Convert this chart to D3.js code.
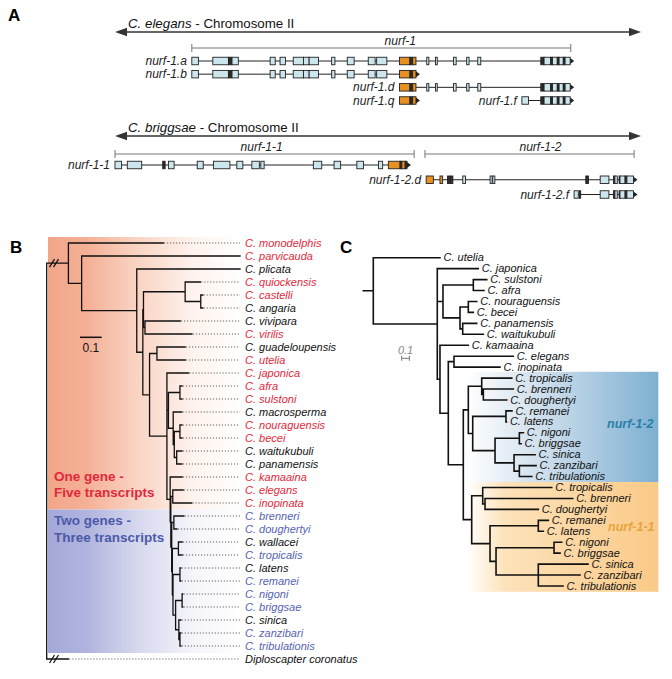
<!DOCTYPE html>
<html><head><meta charset="utf-8">
<script src="https://cdn.jsdelivr.net/npm/d3@7"></script>
<style>
body{margin:0;background:#fff}
svg{display:block}
text{font-family:"Liberation Sans",Arial,sans-serif}
</style></head>
<body><svg id="fig" width="672" height="679"></svg>
<script>
// ================= DATA =================
// Panel A : genomic coordinates in kb
const chromSpan = [0, 17.53];
const elegansGeneNames = ["nurf-1"];
const elegansGeneSpans = [[2.56, 15.19]];
const briggsaeGeneNames = ["nurf-1-1", "nurf-1-2"];
const briggsaeGeneSpans = [[0.00, 9.97], [10.33, 17.30]];

// exon blocks [start, end, kind]  L = coding, D = dark segment, O = orange (shared 5' region)
const nurf1Exons5p = [[2.56,2.78,"L"],[3.26,3.78,"L"],[3.78,3.89,"D"],[3.90,4.11,"L"],
  [5.17,5.34,"L"],[5.50,5.68,"L"],[5.94,6.28,"L"],[6.28,6.47,"L"],[6.47,6.78,"L"],
  [7.22,7.33,"L"],[7.74,7.97,"L"],[8.44,8.67,"L"],[8.72,9.06,"L"]];
const nurf1ExonsOrange = [[9.48,9.83,"O"],[9.83,9.92,"D"],[9.92,10.03,"O"]];
const nurf1ExonsMid = [[10.39,10.46,"L"],[10.68,10.74,"L"],[11.28,11.37,"L"],[11.72,11.80,"L"],[12.09,12.19,"L"]];
const nurf1ExonsF = [[13.56,13.78,"L"]];
const nurf1Exons3p = [[14.19,14.30,"D"],[14.30,14.52,"L"],[14.52,14.58,"D"],[14.58,14.74,"L"],
  [14.74,14.80,"D"],[14.80,14.94,"L"],[14.94,15.00,"D"],[15.00,15.17,"L"]];

const elegansTranscripts = ["nurf-1.a", "nurf-1.b", "nurf-1.d", "nurf-1.q", "nurf-1.f"];
const elegansRows = [0, 1, 2, 3, 3];
const elegansParts = [
  ["p5", "orange", "mid", "p3"],
  ["p5", "orange"],
  ["orange", "mid", "p3"],
  ["orange"],
  ["f", "p3"]
];

const nurf11Exons = [[0.00,0.22,"L"],[0.41,0.89,"L"],[1.59,1.67,"D"],[1.78,1.97,"L"],[2.74,2.94,"L"],
  [3.28,3.83,"L"],[4.06,4.26,"L"],[4.56,4.81,"L"],[4.86,4.97,"L"],[6.61,6.89,"L"],[7.30,7.52,"L"],
  [8.06,8.28,"L"],[8.78,8.92,"L"],[9.11,9.50,"O"],[9.50,9.56,"D"],[9.56,9.67,"O"],[9.67,9.73,"D"]];
const nurf12dExons = [[10.37,10.61,"O"],[10.83,10.92,"O"],[11.08,11.16,"D"],[11.18,11.26,"D"],
  [11.59,11.68,"L"],[12.50,12.57,"L"],[12.59,12.66,"L"],[15.69,15.78,"D"],[16.17,16.46,"L"],
  [16.61,16.66,"D"],[16.66,16.74,"L"],[16.80,16.83,"D"],[16.83,17.00,"L"],[17.00,17.06,"D"],[17.06,17.28,"L"]];
const nurf12fExons = [[15.30,15.44,"L"],[15.48,15.52,"D"],[16.17,16.46,"L"],[16.61,16.66,"D"],
  [16.66,16.74,"L"],[16.80,16.83,"D"],[16.83,17.00,"L"],[17.00,17.06,"D"],[17.06,17.28,"L"]];
const briggsaeTranscripts = ["nurf-1-1", "nurf-1-2.d", "nurf-1-2.f"];
const briggsaeRows = [0, 1, 2];

// Panel B : species tree [id, parent, branch length]
const treeBNodes = [
  ["root","",0],
  ["A","root",0.100],
  ["C. monodelphis","A",0.437],
  ["B","A",0.061],
  ["C. parvicauda","B",0.730],
  ["C","B",0.254],
  ["C. plicata","C",0.476],
  ["D","C",0.028],
  ["E","D",0.003],
  ["F","E",0.192],
  ["C. quiockensis","F",0.070],
  ["G","F",0.072],
  ["C. castelli","G",0.009],
  ["C. angaria","G",0.009],
  ["H","E",0.007],
  ["C. vivipara","H",0.162],
  ["C. virilis","H",0.216],
  ["L","D",0.031],
  ["M","L",0.034],
  ["C. guadeloupensis","M",0.130],
  ["C. utelia","M",0.130],
  ["N","L",0.080],
  ["C. japonica","N",0.100],
  ["N3","N",0.007],
  ["P","N3",0.053],
  ["C. afra","P",0.009],
  ["C. sulstoni","P",0.009],
  ["N4","N3",0.022],
  ["C. macrosperma","N4",0.039],
  ["N5","N4",0.005],
  ["Q","N5",0.026],
  ["C. nouraguensis","Q",0.009],
  ["C. becei","Q",0.009],
  ["S","N5",0.011],
  ["C. waitukubuli","S",0.024],
  ["C. panamensis","S",0.024],
  ["E1","N",0.015],
  ["C. kamaaina","E1",0.055],
  ["E2","E1",0.003],
  ["EI","E2",0.009],
  ["C. elegans","EI",0.048],
  ["C. inopinata","EI",0.087],
  ["E3","E2",0.004],
  ["BD","E3",0.010],
  ["C. brenneri","BD",0.046],
  ["C. doughertyi","BD",0.014],
  ["E4","E3",0.003],
  ["WT","E4",0.028],
  ["C. wallacei","WT",0.017],
  ["C. tropicalis","WT",0.017],
  ["E5","E4",0.003],
  ["LR","E5",0.032],
  ["C. latens","LR",0.004],
  ["C. remanei","LR",0.004],
  ["E6","E5",0.012],
  ["NB","E6",0.030],
  ["C. nigoni","NB",0.003],
  ["C. briggsae","NB",0.003],
  ["SZT","E6",0.015],
  ["C. sinica","SZT",0.009],
  ["ZT","SZT",0.005],
  ["C. zanzibari","ZT",0.004],
  ["C. tribulationis","ZT",0.004],
  ["Diploscapter coronatus","root",0.100]
];
const treeBLeaves = ["C. monodelphis","C. parvicauda","C. plicata","C. quiockensis","C. castelli","C. angaria",
  "C. vivipara","C. virilis","C. guadeloupensis","C. utelia","C. japonica","C. afra","C. sulstoni",
  "C. macrosperma","C. nouraguensis","C. becei","C. waitukubuli","C. panamensis","C. kamaaina",
  "C. elegans","C. inopinata","C. brenneri","C. doughertyi","C. wallacei","C. tropicalis","C. latens",
  "C. remanei","C. nigoni","C. briggsae","C. sinica","C. zanzibari","C. tribulationis","Diploscapter coronatus"];
const treeBLeafGroup = ["one","one","na","one","one","na","na","one","na","one","one","one","one",
  "na","one","one","na","na","one","one","one","two","two","na","two","na","two","two","two","na","two","two","na"];
const groupLabels = [["One gene -","Five transcripts"],["Two genes -","Three transcripts"]];

// Panel C : gene tree [id, parent, branch length, label]
const treeCNodes = [
  ["r","",0,""],
  ["utelia","r",0.866,"C. utelia"],
  ["C1","r",0.831,""],
  ["japonica","C1",0.532,"C. japonica"],
  ["C2","C1",0.074,""],
  ["SA","C2",0.394,""],
  ["sulstoni","SA",0.174,"C. sulstoni"],
  ["afra","SA",0.139,"C. afra"],
  ["C3","C2",0.221,""],
  ["NoB","C3",0.108,""],
  ["nouraguensis","NoB",0.109,"C. nouraguensis"],
  ["becei","NoB",0.065,"C. becei"],
  ["PW","C3",0.035,""],
  ["panamensis","PW",0.182,"C. panamensis"],
  ["waitukubuli","PW",0.268,"C. waitukubuli"],
  ["C4","C1",0.035,""],
  ["kamaaina","C4",0.368,"C. kamaaina"],
  ["C5","C4",0.108,""],
  ["EI","C5",0.074,""],
  ["elegans","EI",0.770,"C. elegans"],
  ["inopinata","EI",0.597,"C. inopinata"],
  ["C6","C5",0.195,""],
  ["X0","C6",0.065,""],
  ["X1","X0",0.174,""],
  ["tropicalis2","X1",0.390,"C. tropicalis"],
  ["X2","X1",0.021,""],
  ["brenneri2","X2",0.390,"C. brenneri"],
  ["doughertyi2","X2",0.304,"C. doughertyi"],
  ["Y1","X0",0.057,""],
  ["LR2","Y1",0.432,""],
  ["remanei2","LR2",0.078,"C. remanei"],
  ["latens2","LR2",0.006,"C. latens"],
  ["Y2","Y1",0.290,""],
  ["NB2","Y2",0.316,""],
  ["nigoni2","NB2",0.052,"C. nigoni"],
  ["briggsae2","NB2",0.022,"C. briggsae"],
  ["SZT2","Y2",0.247,""],
  ["sinica2","SZT2",0.273,"C. sinica"],
  ["ZT2","SZT2",0.069,""],
  ["zanzibari2","ZT2",0.217,"C. zanzibari"],
  ["tribulationis2","ZT2",0.161,"C. tribulationis"],
  ["Z0","C6",0.109,""],
  ["Z1","Z0",0.143,""],
  ["tropicalis1","Z1",0.896,"C. tropicalis"],
  ["Z2","Z1",0.030,""],
  ["brenneri1","Z2",1.139,"C. brenneri"],
  ["doughertyi1","Z2",0.692,"C. doughertyi"],
  ["Z3","Z0",0.238,""],
  ["RL1","Z3",0.627,""],
  ["remanei1","RL1",0.130,"C. remanei"],
  ["latens1","RL1",0.065,"C. latens"],
  ["Z4","Z3",0.078,""],
  ["NB1","Z4",0.753,""],
  ["nigoni1","NB1",0.100,"C. nigoni"],
  ["briggsae1","NB1",0.078,"C. briggsae"],
  ["SZT1","Z4",0.549,""],
  ["sinica1","SZT1",0.645,"C. sinica"],
  ["zanzibari1","SZT1",0.542,"C. zanzibari"],
  ["tribulationis1","SZT1",0.321,"C. tribulationis"]
];
const treeCClades = ["nurf-1-2", "nurf-1-1"];
const treeCCladeFirst = ["tropicalis2", "tropicalis1"];
const treeCCladeLast = ["tribulationis2", "tribulationis1"];
const scaleBarValue = 0.1;

// ================= DRAW =================
const svg = d3.select("#fig");
const defs = svg.append("defs");
function hGrad(id, stops) {
  const lg = defs.append("linearGradient").attr("id", id)
    .attr("x1", "0").attr("x2", "1").attr("y1", "0").attr("y2", "0");
  stops.forEach(s => lg.append("stop").attr("offset", s[0]).attr("stop-color", s[1]));
}
hGrad("gRed", [[0,"rgb(242,166,136)"],[0.2,"rgb(244,176,150)"],[0.45,"rgb(249,210,193)"],[0.75,"rgb(254,242,237)"],[1,"#fff"]]);
hGrad("gBlue", [[0,"rgb(164,168,217)"],[0.2,"rgb(176,180,222)"],[0.45,"rgb(212,214,237)"],[0.75,"rgb(244,244,250)"],[1,"#fff"]]);
hGrad("gTeal", [[0,"#ffffff"],[0.35,"rgb(212,226,238)"],[1,"rgb(126,176,210)"]]);
hGrad("gOrange", [[0,"#ffffff"],[0.2,"rgb(253,226,186)"],[1,"rgb(250,202,135)"]]);

const panelFont = 17;
svg.append("text").attr("x", 8).attr("y", 21).attr("font-size", panelFont).attr("font-weight", "bold").text("A");
svg.append("text").attr("x", 10).attr("y", 253).attr("font-size", panelFont).attr("font-weight", "bold").text("B");
svg.append("text").attr("x", 340).attr("y", 253).attr("font-size", panelFont).attr("font-weight", "bold").text("C");

// ---------- Panel A ----------
const xA = d3.scaleLinear().domain(chromSpan).range([115, 641]);
const exonFill = {L: "#cde6ee", D: "#2b2b2b", O: "#e8901f"};
const partMap = {p5: nurf1Exons5p, orange: nurf1ExonsOrange, mid: nurf1ExonsMid, f: nurf1ExonsF, p3: nurf1Exons3p};

function drawChromosome(y, species) {
  const g = svg.append("g");
  const x0 = xA(chromSpan[0]), x1 = xA(chromSpan[1]);
  g.append("line").attr("x1", x0 + 6).attr("x2", x1 - 6).attr("y1", y).attr("y2", y)
    .attr("stroke", "#333").attr("stroke-width", 1.6);
  g.append("path").attr("d", `M${x0},${y}L${x0 + 12},${y - 4.2}L${x0 + 12},${y + 4.2}Z`).attr("fill", "#333");
  g.append("path").attr("d", `M${x1},${y}L${x1 - 12},${y - 4.2}L${x1 - 12},${y + 4.2}Z`).attr("fill", "#333");
  const t = g.append("text").attr("x", 128).attr("y", y - 4.5).attr("font-size", 13.3).attr("fill", "#111");
  t.append("tspan").attr("font-style", "italic").text(species);
  t.append("tspan").text(" - Chromosome II");
}
function drawGenes(y, names, spans, shifts) {
  const g = svg.append("g");
  names.forEach((n, i) => {
    const a = xA(spans[i][0]), b = xA(spans[i][1]);
    g.append("path").attr("d", `M${a},${y - 4}V${y + 4}M${a},${y}H${b}M${b},${y - 4}V${y + 4}`)
      .attr("stroke", "#777").attr("stroke-width", 1).attr("fill", "none");
    g.append("text").attr("x", (a + b) / 2 + shifts[i]).attr("y", y - 3.5).attr("text-anchor", "middle")
      .attr("font-size", 12).attr("font-style", "italic").attr("fill", "#222").text(n);
  });
}
function drawTranscript(y, name, exons) {
  const g = svg.append("g");
  const s = xA(d3.min(exons, e => e[0])), e = xA(d3.max(exons, e => e[1]));
  g.append("line").attr("x1", s).attr("x2", e).attr("y1", y).attr("y2", y).attr("stroke", "#222").attr("stroke-width", 1);
  g.selectAll("rect").data(exons).join("rect")
    .attr("x", d => xA(d[0])).attr("width", d => Math.max(1, xA(d[1]) - xA(d[0])))
    .attr("y", y - 3.75).attr("height", 7.5)
    .attr("fill", d => exonFill[d[2]]).attr("stroke", "#222").attr("stroke-width", 0.9);
  g.append("path").attr("d", `M${e},${y - 3}L${e + 4},${y}L${e},${y + 3}Z`).attr("fill", "#222");
  g.append("text").attr("x", s - 5).attr("y", y + 4).attr("text-anchor", "end")
    .attr("font-size", 12).attr("font-style", "italic").attr("fill", "#222").text(name);
}

drawChromosome(32, "C. elegans");
drawGenes(48, elegansGeneNames, elegansGeneSpans, [19]);
const yRowE = d3.scaleLinear().domain([0, 3]).range([61, 100.5]);
elegansTranscripts.forEach((t, i) => {
  const ex = elegansParts[i].flatMap(p => partMap[p]);
  drawTranscript(yRowE(elegansRows[i]), t, ex);
});

drawChromosome(136, "C. briggsae");
drawGenes(154, briggsaeGeneNames, briggsaeGeneSpans, [-3, 11]);
const yRowB = d3.scaleLinear().domain([0, 2]).range([165, 194.5]);
[nurf11Exons, nurf12dExons, nurf12fExons].forEach((ex, i) => {
  drawTranscript(yRowB(briggsaeRows[i]), briggsaeTranscripts[i], ex);
});

// ---------- Panel B ----------
const rootB = d3.stratify().id(d => d[0]).parentId(d => d[1] || null)(treeBNodes);
rootB.eachBefore(n => n.len = n.parent ? n.parent.len + n.data[2] : 0);
const xB = d3.scaleLinear().domain([0, 0.1]).range([46.7, 68.4]);
const yB = d3.scalePoint().domain(treeBLeaves).range([243, 659]);
rootB.eachAfter(n => {
  n.yy = n.children ? (n.children[0].yy + n.children[n.children.length - 1].yy) / 2 : yB(n.id);
});
const groupOf = new Map(treeBLeaves.map((l, i) => [l, treeBLeafGroup[i]]));
const leafColor = d3.scaleOrdinal().domain(["one", "two", "na"]).range(["#e2283c", "#5563b0", "#111"]);

const gB = svg.append("g");
const redTop = yB(treeBLeaves[0]) - 6;
const redBottom = (yB("C. inopinata") + yB("C. brenneri")) / 2;
const blueBottom = yB("C. tribulationis") + 7;
gB.append("rect").attr("x", 48).attr("y", redTop).attr("width", 192).attr("height", redBottom - redTop).attr("fill", "url(#gRed)");
gB.append("rect").attr("x", 48).attr("y", redBottom).attr("width", 192).attr("height", blueBottom - redBottom).attr("fill", "url(#gBlue)");

const labelX = 240;
gB.selectAll("line.dot").data(rootB.leaves().filter(l => xB(l.len) < labelX - 1)).join("line")
  .attr("x1", d => xB(d.len) + 1).attr("x2", labelX).attr("y1", d => d.yy).attr("y2", d => d.yy)
  .attr("stroke", "#333").attr("stroke-width", 0.9).attr("stroke-dasharray", "1,2");
const branchPathB = [];
rootB.descendants().forEach(n => {
  if (n.parent) branchPathB.push(`M${xB(n.parent.len)},${n.yy}H${xB(n.len)}`);
  if (n.children) branchPathB.push(`M${xB(n.len)},${n.children[0].yy}V${n.children[n.children.length - 1].yy}`);
});
gB.append("path").attr("d", branchPathB.join("")).attr("fill", "none").attr("stroke", "#111")
  .attr("stroke-width", 1.3).attr("stroke-linecap", "square");
rootB.children.forEach(c => {
  [52, 56].forEach(bx => {
    gB.append("line").attr("x1", bx - 2.5).attr("x2", bx + 2.5).attr("y1", c.yy + 4).attr("y2", c.yy - 4)
      .attr("stroke", "#111").attr("stroke-width", 1.2);
  });
});
gB.selectAll("text.leaf").data(rootB.leaves()).join("text")
  .attr("x", labelX + 5).attr("y", d => d.yy + 3.8).attr("font-size", 11).attr("font-style", "italic")
  .attr("fill", d => leafColor(groupOf.get(d.id))).text(d => d.id);
const sb0 = 80, sb1 = sb0 + (xB(scaleBarValue) - xB(0));
gB.append("line").attr("x1", sb0).attr("x2", sb1).attr("y1", 337.3).attr("y2", 337.3).attr("stroke", "#111").attr("stroke-width", 1.5);
gB.append("text").attr("x", (sb0 + sb1) / 2).attr("y", 352).attr("text-anchor", "middle").attr("font-size", 12).attr("fill", "#111").text(String(scaleBarValue));
const grpCol = ["#e2283c", "#4b5aa8"];
const grpY = [480.7, 525];
groupLabels.forEach((lines, i) => {
  lines.forEach((ln, j) => {
    gB.append("text").attr("x", 54).attr("y", grpY[i] + j * 16.6).attr("font-size", 13.5)
      .attr("font-weight", "bold").attr("fill", grpCol[i]).text(ln);
  });
});

// ---------- Panel C ----------
const rootC = d3.stratify().id(d => d[0]).parentId(d => d[1] || null)(treeCNodes);
rootC.eachBefore(n => n.len = n.parent ? n.parent.len + n.data[2] : 0);
const xC = d3.scaleLinear().domain([0, 1]).range([373.3, 450.3]);
const leavesC = rootC.leaves();
const yC = d3.scalePoint().domain(leavesC.map(l => l.id)).range([257.7, 586]);
rootC.eachAfter(n => {
  n.yy = n.children ? (n.children[0].yy + n.children[n.children.length - 1].yy) / 2 : yC(n.id);
});
const gC = svg.append("g");
const boxX0 = 466.7, boxX1 = 658.3;
const cTop = yC(treeCCladeFirst[0]) - 6.3;
const cMid = (yC(treeCCladeLast[0]) + yC(treeCCladeFirst[1])) / 2;
const cBot = yC(treeCCladeLast[1]) + 5.8;
gC.append("rect").attr("x", boxX0).attr("y", cTop).attr("width", boxX1 - boxX0).attr("height", cMid - cTop).attr("fill", "url(#gTeal)");
gC.append("rect").attr("x", boxX0).attr("y", cMid).attr("width", boxX1 - boxX0).attr("height", cBot - cMid).attr("fill", "url(#gOrange)");
gC.append("text").attr("x", 607).attr("y", 428.3).attr("font-size", 12.5).attr("font-weight", "bold")
  .attr("font-style", "italic").attr("fill", "#2a7fa8").text(treeCClades[0]);
gC.append("text").attr("x", 608).attr("y", 531).attr("font-size", 12.5).attr("font-weight", "bold")
  .attr("font-style", "italic").attr("fill", "#e8a23e").text(treeCClades[1]);

const branchPathC = [`M${xC(0) - 10},${rootC.yy}H${xC(0)}`];
rootC.descendants().forEach(n => {
  if (n.parent) branchPathC.push(`M${xC(n.parent.len)},${n.yy}H${xC(n.len)}`);
  if (n.children) branchPathC.push(`M${xC(n.len)},${n.children[0].yy}V${n.children[n.children.length - 1].yy}`);
});
gC.append("path").attr("d", branchPathC.join("")).attr("fill", "none").attr("stroke", "#111")
  .attr("stroke-width", 1.6).attr("stroke-linecap", "square");
gC.selectAll("text.leaf").data(leavesC).join("text")
  .attr("x", d => xC(d.len) + 3.5).attr("y", d => d.yy + 3.6).attr("font-size", 11).attr("font-style", "italic")
  .attr("fill", "#111").text(d => d.data[3]);
const cs0 = 401.7, cs1 = cs0 + (xC(scaleBarValue) - xC(0));
gC.append("path").attr("d", `M${cs0},355.8V360.8M${cs0},358.3H${cs1}M${cs1},355.8V360.8`)
  .attr("stroke", "#777").attr("stroke-width", 1).attr("fill", "none");
gC.append("text").attr("x", (cs0 + cs1) / 2).attr("y", 353.5).attr("text-anchor", "middle")
  .attr("font-size", 11).attr("font-style", "italic").attr("fill", "#888").text(String(scaleBarValue));
</script>
</body></html>
